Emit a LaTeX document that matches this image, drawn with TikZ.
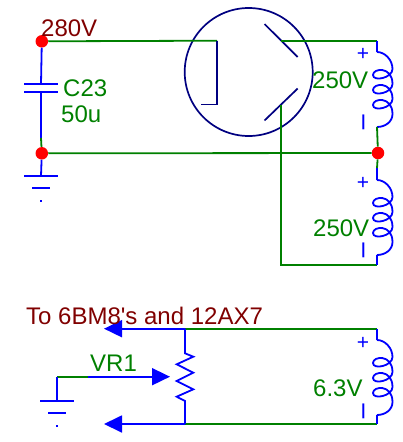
\documentclass[tikz,border=0pt]{standalone}
\usepackage{fontspec}
\setmainfont{Liberation Sans}
\usetikzlibrary{arrows.meta}
\definecolor{wiregreen}{RGB}{0,128,0}
\definecolor{textred}{RGB}{128,0,0}
\definecolor{tubeblue}{RGB}{0,0,128}
\newcommand{\polminus}{\rotatebox{90}{\scalebox{2.9}[1.2]{-}}}
\tikzset{
	wire/.style={draw=wiregreen,line width=1.8pt},
	part/.style={draw=blue,line width=1.8pt},
	tubepart/.style={draw=tubeblue,line width=1.7pt},
	dot/.style={shape=circle,fill=red,minimum size=12.5pt,inner sep=0pt},
	greenlabel/.style={anchor=base west,inner sep=0pt,text=wiregreen,font=\fontsize{24}{27}\selectfont},
	redlabel/.style={anchor=base west,inner sep=0pt,text=textred,font=\fontsize{24}{27}\selectfont},
	sign/.style={inner sep=0pt,text=blue,font=\fontsize{21}{24}\selectfont},
	coil/.pic={
		\coordinate (-in) at (0,0);
		\coordinate (-out) at (0,75);
		\draw[part] (0,0) .. controls (8,0) and (15.5,8) .. (15.5,17)
			foreach \k in {0,1,2} {
				.. controls (15.5,{26+15*\k}) and (-4,{30+15*\k}) .. (-4,{23+15*\k})
				.. controls (-4,{16+15*\k}) and (15.5,{14+15*\k}) .. (15.5,{32+15*\k})
			}
			.. controls (15.5,70) and (8,75) .. (0,75);
	},
	earth/.pic={
		\coordinate (-top) at (0,0);
		\draw[part] (-17,0) -- (17,0);
		\draw[part] (-9,12) -- (9,12);
		\fill[blue] (-1,24) rectangle (1,26);
	}
}

\begin{document}
\begin{tikzpicture}[x=1pt,y=-1pt,>/.tip={Triangle[length=18pt,width=17pt]}]
	\useasboundingbox (0,0) rectangle (402,442);
	\node (tube) at (248.7,72) [shape=circle,tubepart,minimum size=128pt,inner sep=0pt] {};
	\node (topdot) at (41.8,41.3) [dot] {};
	\node (middot) at (41.8,153.3) [dot] {};
	\node (rightdot) at (378,153) [dot] {};

	\coordinate (capa) at (41,84);
	\coordinate (capb) at (41,92);
	\coordinate (leftjoin) at (41,138);
	\coordinate (platetop) at (217,40.7);
	\coordinate (platebot) at (217,104.5);
	\coordinate (plateend) at (201,104.5);
	\coordinate (anodea) at (281,40.7);
	\coordinate (anodeb) at (281,105);
	\coordinate (wirecorner) at (281,265);
	\coordinate (topcorner) at (377,40.7);
	\coordinate (rightjoin) at (377,168);
	\coordinate (potin) at (185,328.7);
	\coordinate (potout) at (185,424);
	\coordinate (heatertop) at (377,328.7);
	\coordinate (heaterbot) at (377,424);
	\coordinate (tipa) at (104,328.7);
	\coordinate (tipb) at (104,424);
	\coordinate (tipc) at (170,376.7);
	\coordinate (wiperjoin) at (88,376.7);
	\coordinate (wipercorner) at (57,376.7);

	\pic (coila) at (377,52) {coil};
	\pic (coilb) at (377,180) {coil};
	\pic (coilc) at (377,340) {coil};
	\pic (gnda) at (41,176) {earth};
	\pic (gndb) at (57,400.7) {earth};

	% capacitor and first ground
	\draw[part] (topdot) -- (capa);
	\draw[part] (24,84) -- (58,84);
	\draw[part] (24,92) -- (58,92);
	\draw[part] (capb) -- (leftjoin);
	\draw[wire] (leftjoin) -- (middot);
	\draw[part] (middot) -- (gnda-top);

	% tube
	\draw[wire] (topdot) -- (platetop);
	\draw[tubepart] (platetop) -- (platebot) -- (plateend);
	\draw[tubepart] (264.5,24) -- (297.7,57);
	\draw[tubepart] (297.7,88.5) -- (264.5,120.5);

	% secondary
	\draw[wire] (anodea) -- (topcorner);
	\draw[part] (topcorner) -- (coila-in);
	\draw[wire] (coila-out) -- (rightdot);
	\draw[wire] (middot) -- (rightdot);
	\draw[wire] (rightdot) -- (rightjoin);
	\draw[part] (rightjoin) -- (coilb-in);
	\draw[wire] (anodeb) -- (wirecorner) -- (377,265);
	\draw[part] (coilb-out) -- (377,265);

	% heater and VR1
	\draw[wire] (potin) -- (heatertop);
	\draw[part] (heatertop) -- (coilc-in);
	\draw[wire] (potout) -- (heaterbot);
	\draw[part] (coilc-out) -- (heaterbot);
	\draw[part,->] (potin) -- (tipa);
	\draw[part,->] (potout) -- (tipb);
	\draw[part] (potin) -- (185,353.3) -- (193.3,356.7) -- (176.7,364.3) -- (193.3,372.7) -- (176.7,381) -- (193.3,389.3) -- (176.7,396.7) -- (185,401) -- (potout);
	\draw[wire] (wipercorner) -- (wiperjoin);
	\draw[part,->] (wiperjoin) -- (tipc);
	\draw[part] (wipercorner) -- (gndb-top);

	\node (volta) at (41,36) [redlabel] {280V};
	\node (capname) at (63,96.5) [greenlabel] {C23};
	\node (capvalue) at (61,122) [greenlabel] {50u};
	\node (voltb) at (312,88) [greenlabel] {250V};
	\node (voltc) at (313,236.5) [greenlabel] {250V};
	\node (voltd) at (313,396) [greenlabel] {6.3V};
	\node (potname) at (90,371) [greenlabel] {VR1};
	\node (tubes) at (26,324) [redlabel] {To 6BM8\textquotesingle s and 12AX7};
	\node (plusa) at (363,54) [sign] {+};
	\node (minusa) at (367,122) [sign] {\polminus};
	\node (plusb) at (363,183) [sign] {+};
	\node (minusb) at (367,250) [sign] {\polminus};
	\node (plusc) at (363,343) [sign] {+};
	\node (minusc) at (367,411) [sign] {\polminus};
\end{tikzpicture}
\end{document}
